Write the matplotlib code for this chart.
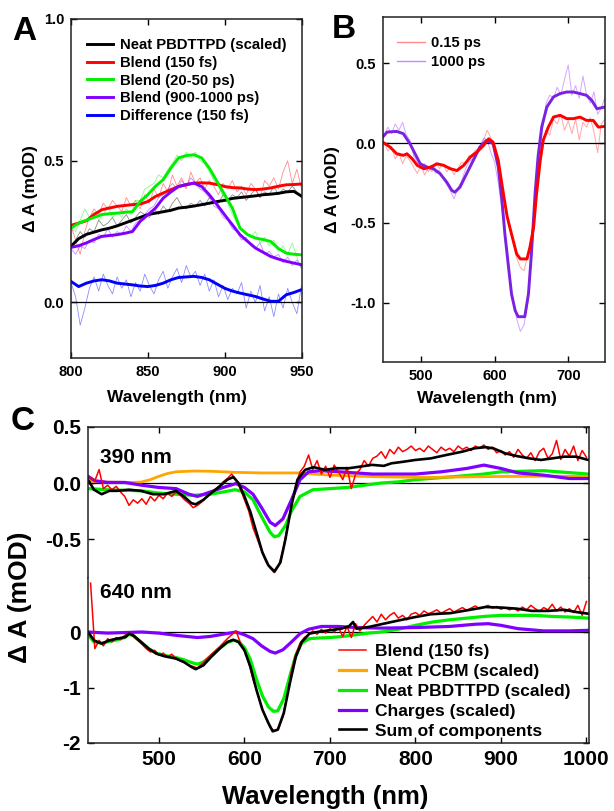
import numpy as np
import matplotlib
matplotlib.use("Agg")
import matplotlib.pyplot as plt

plt.rcParams["font.family"] = ["Liberation Sans", "DejaVu Sans"]
plt.rcParams["font.weight"] = "bold"
plt.rcParams["axes.labelweight"] = "bold"
plt.rcParams["axes.unicode_minus"] = False

RED = "#ff0000"
GREEN = "#00ee00"
PURPLE = "#8000ff"
BLUE = "#0000ff"
ORANGE = "#ffa500"
INK = "#000000"

# ---------------- panel A (800-950 nm, 5 nm smoothed / 3 nm raw) ----------------
A_NEAT = [.198, .225, .24, .248, .256, .262, .27, .28, .29, .30, .31, .315, .32, .325, .333,
          .336, .34, .345, .35, .356, .36, .367, .37, .373, .376, .38, .382, .385, .39, .392, .375]
A_BLEND_150FS = [.272, .28, .288, .31, .327, .333, .339, .342, .345, .347, .356, .374, .386, .398, .409,
                 .415, .421, .422, .421, .416, .409, .405, .404, .40, .398, .40, .404, .41, .415, .416, .418]
A_BLEND_20PS = [.262, .28, .29, .30, .31, .313, .315, .318, .32, .356, .38, .41, .433, .474, .51,
                .518, .521, .51, .474, .427, .38, .333, .262, .239, .227, .222, .215, .19, .174, .17, .168]
A_BLEND_1NS = [.194, .20, .21, .222, .233, .236, .239, .244, .25, .286, .309, .333, .368, .39, .409,
               .416, .421, .409, .38, .345, .309, .274, .239, .215, .192, .177, .162, .153, .145, .139, .133]
A_DIFF = [.074, .056, .068, .076, .08, .076, .068, .065, .062, .058, .056, .06, .068, .08, .088,
          .09, .092, .088, .08, .065, .05, .04, .033, .027, .021, .012, .004, .004, .027, .035, .045]

A_NEAT_RAW = [.20, .22, .25, .23, .26, .25, .29, .27, .28, .30, .27, .29, .31, .28, .30, .32, .31,
              .30, .33, .31, .34, .32, .35, .37, .34, .33, .35, .34, .36, .34, .37, .36, .35, .38,
              .36, .38, .37, .39, .36, .38, .40, .37, .39, .38, .41, .38, .40, .39, .41, .39, .37]
A_BLEND_150FS_RAW = [.27, .22, .17, .25, .30, .33, .31, .35, .33, .36, .34, .32, .37, .34, .36, .33, .38,
                     .35, .40, .37, .42, .39, .45, .41, .44, .40, .46, .42, .44, .40, .43, .41, .38, .42,
                     .40, .43, .39, .41, .38, .42, .40, .37, .43, .41, .44, .40, .46, .50, .42, .47, .40]
A_BLEND_20PS_RAW = [.26, .25, .29, .33, .30, .32, .29, .31, .34, .30, .32, .30, .33, .31, .36, .36, .40,
                    .41, .42, .45, .44, .47, .49, .52, .50, .53, .51, .53, .50, .49, .46, .43, .41, .37,
                    .35, .31, .28, .26, .24, .23, .25, .21, .23, .20, .22, .18, .20, .17, .21, .16, .12]
A_BLEND_1NS_RAW = [.19, .17, .20, .19, .22, .21, .24, .23, .26, .23, .25, .24, .27, .25, .28, .29, .31,
                   .33, .34, .37, .38, .40, .42, .40, .43, .41, .44, .42, .40, .39, .37, .34, .33, .30,
                   .29, .26, .25, .22, .23, .20, .19, .21, .17, .18, .16, .17, .14, .16, .13, .15, .12]
A_DIFF_RAW = [.07, .02, -.08, -.02, .05, .09, .04, .10, .06, .03, .09, .05, .08, .02, .07, .04, .10,
              .06, .03, .08, .11, .05, .09, .12, .07, .13, .09, .11, .06, .10, .04, .08, .02, .06,
              .01, .05, .03, .07, -.02, .04, .00, .06, -.03, .02, -.05, .03, -.02, .05, .00, -.04, .06]
A_LABELS = ["Neat PBDTTPD (scaled)", "Blend (150 fs)", "Blend (20-50 ps)",
            "Blend (900-1000 ps)", "Difference (150 fs)"]

# ---------------- panel B ----------------
B_RED_WL = [448, 458, 467, 476, 481, 488, 495, 504, 513, 522, 531, 540, 549, 558, 567, 576, 585,
            592, 598, 605, 612, 617, 623, 630, 635, 644, 648, 653, 657, 662, 666, 673, 680, 689,
            698, 707, 716, 725, 734, 741, 750]
B_RED = [.006, -.025, -.067, -.077, -.067, -.098, -.14, -.161, -.15, -.13, -.14, -.161, -.172, -.14,
         -.088, -.056, -.015, .027, .006, -.109, -.318, -.46, -.57, -.695, -.726, -.726, -.653, -.527,
         -.318, -.109, .017, .10, .163, .174, .153, .153, .163, .142, .142, .10, .105]
B_PURPLE_WL = [448, 454, 467, 476, 485, 492, 499, 508, 517, 526, 535, 542, 546, 553, 562, 571, 580,
               589, 598, 605, 610, 614, 619, 623, 628, 632, 641, 646, 650, 655, 659, 664, 671, 680,
               689, 698, 707, 716, 725, 732, 739, 750]
B_PURPLE = [.038, .069, .073, .059, -.004, -.067, -.13, -.15, -.161, -.192, -.245, -.297, -.308, -.276,
            -.192, -.109, -.025, .017, -.004, -.15, -.36, -.57, -.78, -.946, -1.05, -1.088, -1.088,
            -.946, -.695, -.318, -.088, .10, .226, .289, .31, .32, .32, .31, .299, .268, .215, .226]
B_RED_RAW = [.00, -.05, -.02, -.10, -.06, -.13, -.08, -.11, -.15, -.19, -.14, -.20, -.15, -.18, -.12,
             -.16, -.13, -.18, -.15, -.20, -.16, -.12, -.13, -.08, -.07, -.04, -.03, .02, .08, .03,
             -.06, -.14, -.28, -.42, -.53, -.62, -.72, -.78, -.80, -.70, -.60, -.42, -.20, -.05, .08,
             .05, .15, .12, .18, .08, .14, .06, .15, .02, .13, .10, .16, .07, -.06, .12, .15]
B_PURPLE_RAW = [.05, .10, .06, .12, .08, .13, .05, .02, -.08, -.12, -.16, -.13, -.18, -.14, -.19, -.17,
                -.22, -.26, -.30, -.35, -.28, -.24, -.17, -.12, -.10, -.06, -.02, .03, .02, -.06, -.12,
                -.25, -.42, -.60, -.82, -.98, -1.10, -1.18, -1.14, -1.00, -.75, -.40, -.15, .08, .25,
                .30, .28, .35, .30, .40, .49, .30, .36, .28, .42, .30, .25, .32, .18, .22, .29]
B_LABELS = ["0.15 ps", "1000 ps"]

# ---------------- panel C, 390 nm excitation ----------------
C390_BLEND = [.05, .02, .12, -.05, -.02, -.06, -.03, -.08, -.12, -.20, -.15, -.18, -.14, -.19, -.12,
              -.16, -.11, -.14, -.09, -.12, -.08, -.11, -.15, -.18, -.22, -.20, -.17, -.13, -.09, -.06,
              -.03, .01, .04, .08, .03, -.05, -.15, -.25, -.40, -.50, -.60, -.70, -.76, -.80, -.74,
              -.60, -.40, -.20, -.02, .10, .15, .25, .12, .20, .08, .15, .05, .16, .10, .03, .14, -.05,
              .08, .12, .20, .15, .22, .24, .28, .22, .30, .26, .32, .28, .30, .33, .29, .31, .28, .33,
              .30, .27, .32, .29, .31, .28, .33, .30, .32, .29, .33, .31, .34, .30, .32, .27, .29, .25,
              .28, .23, .30, .25, .22, .27, .20, .28, .31, .22, .26, .38, .21, .30, .24, .33, .20, .29, .23]
C390_SUM_WL = [417, 424, 433, 442, 451, 465, 479, 493, 506, 520, 529, 538, 543, 552, 561, 571, 580,
               587, 593, 600, 607, 614, 621, 628, 635, 642, 648, 655, 662, 671, 681, 694, 708, 722,
               736, 749, 763, 772, 786, 800, 818, 836, 855, 869, 882, 891, 905, 919, 933, 947, 960,
               974, 988, 1002]
C390_SUM = [.03, -.06, -.10, -.07, -.07, -.06, -.07, -.10, -.10, -.07, -.12, -.18, -.19, -.15, -.09,
            -.03, .03, .053, 0, -.12, -.26, -.44, -.62, -.735, -.79, -.71, -.50, -.20, .03, .118, .141,
            .118, .132, .132, .147, .162, .153, .176, .19, .206, .22, .25, .28, .31, .32, .31, .265,
            .24, .22, .206, .22, .235, .235, .206]
C390_PCBM_WL = [417, 440, 470, 479, 490, 500, 510, 520, 540, 560, 575, 590, 620, 662, 680, 703, 730,
                754, 790, 818, 864, 900, 950, 1002]
C390_PCBM = [.015, .008, .005, .008, .03, .06, .085, .10, .107, .105, .10, .095, .09, .09, .08, .07,
             .062, .056, .052, .05, .055, .058, .06, .06]
C390_NEAT_WL = [417, 440, 480, 500, 520, 540, 560, 575, 589, 600, 610, 620, 630, 635, 640, 648, 655,
                665, 680, 700, 720, 740, 760, 780, 800, 850, 880, 900, 950, 1002]
C390_NEAT = [-.05, -.06, -.07, -.09, -.10, -.11, -.10, -.08, -.06, -.08, -.15, -.30, -.44, -.48, -.47,
             -.38, -.25, -.12, -.06, -.05, -.04, -.02, 0, .01, .03, .06, .08, .10, .11, .08]
C390_CHARGE_WL = [417, 425, 440, 460, 480, 500, 520, 535, 545, 560, 575, 590, 600, 610, 620, 630, 636,
                  645, 655, 665, 675, 690, 710, 730, 750, 780, 800, 830, 860, 880, 900, 920, 950, 980, 1002]
C390_CHARGE = [.06, .02, .005, .005, -.02, -.04, -.05, -.10, -.12, -.08, -.04, -.005, -.04, -.10, -.22,
               -.35, -.38, -.32, -.15, .03, .10, .11, .10, .09, .08, .08, .08, .10, .13, .16, .13, .09,
               .07, .04, .04]

# ---------------- panel C, 640 nm excitation ----------------
C640_BLEND = [.88, -.30, -.15, -.25, -.12, -.18, -.10, -.14, -.06, -.02, -.08, -.15, -.22, -.30, -.36,
              -.33, -.42, -.38, -.45, -.40, -.48, -.52, -.55, -.60, -.62, -.65, -.58, -.50, -.42, -.35,
              -.28, -.20, -.12, -.05, .02, -.18, -.33, -.55, -.85, -1.10, -1.35, -1.55, -1.72, -1.78,
              -1.74, -1.52, -1.15, -.70, -.40, -.20, -.10, -.05, .02, -.04, .05, -.02, .06, .00, .08,
              -.08, .10, -.10, .15, .02, .12, .20, .28, .18, .32, .22, .30, .35, .25, .30, .22, .32, .35,
              .30, .38, .33, .36, .40, .34, .38, .42, .36, .40, .44, .39, .43, .47, .42, .45, .48, .43,
              .46, .41, .44, .40, .43, .38, .45, .40, .48, .42, .37, .44, .40, .50, .38, .45, .36, .42,
              .35, .48, .30, .55]
C640_SUM_WL = [417, 424, 433, 442, 451, 461, 465, 470, 479, 488, 497, 506, 520, 529, 538, 543, 552,
               561, 571, 580, 587, 593, 600, 607, 614, 621, 628, 633, 639, 646, 653, 660, 667, 676,
               685, 699, 713, 722, 727, 731, 745, 763, 781, 800, 818, 841, 864, 882, 901, 919, 936,
               955, 974, 988, 1002]
C640_SUM = [0, -.15, -.21, -.15, -.12, -.09, -.03, -.06, -.18, -.30, -.39, -.435, -.48, -.54, -.63,
            -.67, -.60, -.45, -.30, -.18, -.14, -.18, -.33, -.63, -1.04, -1.40, -1.64, -1.79, -1.76,
            -1.46, -.93, -.45, -.18, -.03, 0, .03, .06, .10, .18, .06, .09, .15, .21, .27, .32, .34,
            .40, .45, .44, .42, .38, .38, .40, .36, .33]
C640_NEAT_WL = [417, 424, 433, 442, 451, 460, 465, 470, 479, 488, 497, 506, 520, 529, 538, 545, 552,
                561, 570, 580, 587, 593, 600, 607, 614, 621, 628, 634, 639, 646, 653, 660, 667, 676,
                685, 700, 715, 730, 745, 760, 780, 800, 820, 840, 860, 880, 900, 920, 940, 960, 980, 1002]
C640_NEAT = [-.05, -.18, -.20, -.17, -.14, -.10, -.04, -.07, -.18, -.30, -.38, -.42, -.46, -.50, -.55,
             -.58, -.54, -.43, -.30, -.19, -.15, -.17, -.28, -.50, -.85, -1.15, -1.35, -1.43, -1.42,
             -1.20, -.80, -.42, -.20, -.12, -.11, -.10, -.08, -.05, -.02, 0, .05, .12, .18, .22, .25,
             .28, .30, .30, .30, .28, .27, .25]
C640_CHARGE_WL = [417, 440, 480, 500, 520, 545, 560, 575, 590, 600, 610, 620, 630, 636, 645, 655, 665,
                  675, 690, 710, 730, 760, 800, 840, 870, 885, 900, 920, 950, 980, 1002]
C640_CHARGE = [0, -.02, 0, -.02, -.06, -.10, -.08, -.04, 0, -.05, -.12, -.25, -.35, -.38, -.32, -.18,
               -.03, .05, .10, .10, .08, .07, .08, .10, .14, .15, .12, .06, .02, .02, .03]
C_LABELS = ["Blend (150 fs)", "Neat PCBM (scaled)", "Neat PBDTTPD (scaled)",
            "Charges (scaled)", "Sum of components"]


def grid(lo, hi, vals):
    return np.linspace(lo, hi, len(vals))


def style_axes(ax, size):
    ax.tick_params(direction="in", top=True, right=True, length=4, width=1,
                   labelsize=size, pad=5)
    for s in ax.spines.values():
        s.set_linewidth(1.1)
        s.set_color("#222222")


W, H = 614, 811
fig = plt.figure(figsize=(W / 100, H / 100), dpi=100)


def px_axes(left, top, right, bottom):
    return fig.add_axes([left / W, 1 - bottom / H, (right - left) / W, (bottom - top) / H])


# ---- A ----
axA = px_axes(71, 19, 301.5, 357.7)
raw_a = [A_NEAT_RAW, A_BLEND_150FS_RAW, A_BLEND_20PS_RAW, A_BLEND_1NS_RAW, A_DIFF_RAW]
fit_a = [A_NEAT, A_BLEND_150FS, A_BLEND_20PS, A_BLEND_1NS, A_DIFF]
cols_a = [INK, RED, GREEN, PURPLE, BLUE]
for raw, col in zip(raw_a, cols_a):
    axA.plot(grid(800, 950, raw), raw, color=col, lw=0.6, alpha=0.45)
axA.axhline(0, color=INK, lw=0.9)
for fit, col, lab in zip(fit_a, cols_a, A_LABELS):
    axA.plot(grid(800, 950, fit), fit, color=col, lw=2.1, label=lab)
axA.set_xlim(800, 950)
axA.set_ylim(-0.195, 1.0)
axA.set_xticks([800, 850, 900, 950])
axA.set_yticks([0.0, 0.5, 1.0])
axA.set_yticklabels(["0.0", "0.5", "1.0"])
style_axes(axA, 10.5)
axA.set_xlabel("Wavelength (nm)", fontsize=12.5)
axA.set_ylabel("\u0394 A (mOD)", fontsize=12.5)
axA.xaxis.set_label_coords(0.46, -0.095)
axA.yaxis.set_label_coords(-0.143, 0.5)
axA.legend(loc="upper left", bbox_to_anchor=(87 / W, 1 - 38.5 / H), bbox_transform=fig.transFigure,
           frameon=False, fontsize=10.7, handlelength=1.75, handletextpad=0.47,
           labelspacing=0.24, borderpad=0, borderaxespad=0)

# ---- B ----
axB = px_axes(382.7, 17, 605, 361.7)
axB.plot(grid(450, 750, B_RED_RAW), B_RED_RAW, color=RED, lw=0.7, alpha=0.35, label=B_LABELS[0])
axB.plot(grid(450, 750, B_PURPLE_RAW), B_PURPLE_RAW, color=PURPLE, lw=0.7, alpha=0.35, label=B_LABELS[1])
axB.axhline(0, color=INK, lw=0.9)
axB.plot(B_PURPLE_WL, B_PURPLE, color="#7a22e0", lw=2.1)
axB.plot(B_RED_WL, B_RED, color=RED, lw=2.1)
axB.set_xlim(448, 750)
axB.set_ylim(-1.37, 0.79)
axB.set_xticks([500, 600, 700])
axB.set_yticks([-1.0, -0.5, 0.0, 0.5])
axB.set_yticklabels(["-1.0", "-0.5", "0.0", "0.5"])
style_axes(axB, 10.5)
axB.set_xlabel("Wavelength (nm)", fontsize=12.5)
axB.set_ylabel("\u0394 A (mOD)", fontsize=12.5)
axB.xaxis.set_label_coords(0.468, -0.085)
axB.yaxis.set_label_coords(-0.192, 0.5)
legB = axB.legend(loc="upper left", bbox_to_anchor=(397 / W, 1 - 36.5 / H), bbox_transform=fig.transFigure,
                  frameon=False, fontsize=10.6, handlelength=1.9, handletextpad=0.4,
                  labelspacing=0.33, borderpad=0, borderaxespad=0)
for ln in legB.get_lines():
    ln.set_alpha(0.45)
    ln.set_linewidth(1.0)

# ---- C ----
axT = px_axes(88, 427, 589, 578)
axL = px_axes(88, 578, 589, 743)
for ax in (axT, axL):
    ax.axhline(0, color=INK, lw=0.9, zorder=1)
    ax.set_xlim(417, 1003)

axT.plot(C390_NEAT_WL, C390_NEAT, color=GREEN, lw=2.3)
axT.plot(C390_PCBM_WL, C390_PCBM, color=ORANGE, lw=2.0)
axT.plot(C390_CHARGE_WL, C390_CHARGE, color=PURPLE, lw=2.3)
axT.plot(grid(420, 1000, C390_BLEND), C390_BLEND, color=RED, lw=1.1)
axT.plot(C390_SUM_WL, C390_SUM, color=INK, lw=1.9)

h_neat, = axL.plot(C640_NEAT_WL, C640_NEAT, color=GREEN, lw=2.3)
h_charge, = axL.plot(C640_CHARGE_WL, C640_CHARGE, color=PURPLE, lw=2.3)
h_blend, = axL.plot(grid(420, 1000, C640_BLEND), C640_BLEND, color=RED, lw=1.1)
h_sum, = axL.plot(C640_SUM_WL, C640_SUM, color=INK, lw=1.9)
h_pcbm = plt.Line2D([], [], color=ORANGE, lw=2.3)

axT.set_ylim(-0.848, 0.5)
axT.set_yticks([-0.5, 0.0, 0.5])
axT.set_yticklabels(["-0.5", "0.0", "0.5"])
axT.set_xticks([500, 600, 700, 800, 900, 1000])
style_axes(axT, 15)
axT.tick_params(bottom=False, labelbottom=False)
axT.spines["bottom"].set_visible(False)

axL.set_ylim(-2, 0.973)
axL.set_yticks([-2, -1, 0])
axL.set_yticklabels(["-2", "-1", "0"])
axL.set_xticks([500, 600, 700, 800, 900, 1000])
style_axes(axL, 15)
axL.tick_params(top=False)
axL.spines["top"].set_visible(False)

fig.text(100 / W, 1 - 457 / H, "390 nm", fontsize=15, fontweight="bold", va="center")
fig.text(100 / W, 1 - 592 / H, "640 nm", fontsize=15, fontweight="bold", va="center")
fig.text(325 / W, 1 - 797 / H, "Wavelength (nm)", fontsize=18.5, fontweight="bold",
         ha="center", va="center")
fig.text(20 / W, 1 - 597 / H, "\u0394 A (mOD)", fontsize=19, fontweight="bold",
         ha="center", va="center", rotation=90)
axL.legend([h_blend, h_pcbm, h_neat, h_charge, h_sum], C_LABELS, loc="upper left",
           bbox_to_anchor=(339 / W, 1 - 644 / H), bbox_transform=fig.transFigure,
           frameon=False, fontsize=12.5, handlelength=1.55, handletextpad=0.5,
           labelspacing=0.27, borderpad=0, borderaxespad=0)

# panel letters
fig.text(12 / W, 1 - 32 / H, "A", fontsize=24, fontweight="bold", va="center")
fig.text(332 / W, 1 - 29 / H, "B", fontsize=24, fontweight="bold", va="center")
fig.text(11 / W, 1 - 421 / H, "C", fontsize=24, fontweight="bold", va="center")

fig.savefig("out.png", dpi=100)
